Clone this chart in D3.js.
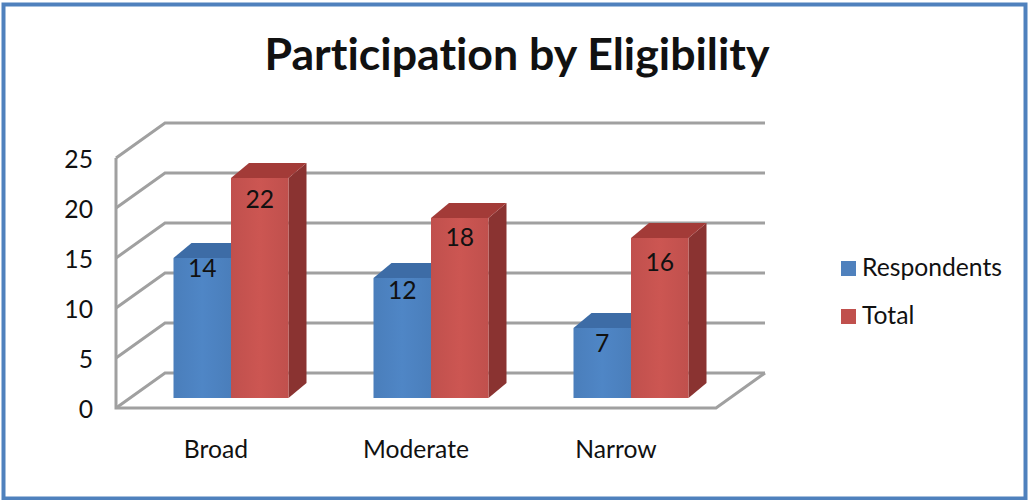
<!DOCTYPE html>
<html>
<head>
<meta charset="utf-8">
<script src="https://cdn.jsdelivr.net/npm/d3@7"></script>
<style>
  html, body { margin: 0; padding: 0; background: #fff; }
  svg { display: block; }
  text { font-family: Lato, "Open Sans", sans-serif; fill: #111; font-variant-ligatures: none; }
  .title { font-size: 44.7px; font-weight: 700; }
  .label { font-size: 24.7px; }
  .grid { stroke: #a0a0a0; stroke-width: 3; fill: none; }
</style>
</head>
<body>
<div id="chart"></div>
<script>
// Participation by Eligibility, fake 3D column chart
const categories = ["Broad", "Moderate", "Narrow"];
const seriesNames = ["Respondents", "Total"];
const respondents = [14, 12, 7];
const total = [22, 18, 16];
const yTicks = [0, 5, 10, 15, 20, 25];

// how far each data label sits under its bar top, placed by hand in the original
const labelDrop = [[10, 12, 15], [21, 19, 24]];

const width = 1029, height = 500;

const svg = d3.select("#chart").append("svg")
  .attr("width", width)
  .attr("height", height);

const faces = [
  { front: "#4a7ebb", frontLight: "#4f86c6", top: "#3d6ca6", side: "#2f5587" },
  { front: "#c0504d", frontLight: "#cc5652", top: "#a33b38", side: "#8a3331" }
];

const defs = svg.append("defs");
faces.forEach((f, i) => {
  const grad = defs.append("linearGradient").attr("id", `front-${i}`);
  grad.append("stop").attr("offset", "0%").attr("stop-color", f.front);
  grad.append("stop").attr("offset", "50%").attr("stop-color", f.frontLight);
  grad.append("stop").attr("offset", "100%").attr("stop-color", f.front);
});

// frame
svg.append("rect")
  .attr("x", 3.5).attr("y", 4.5)
  .attr("width", 1022).attr("height", 494)
  .attr("fill", "#fff")
  .attr("stroke", "#4f81bd")
  .attr("stroke-width", 4);

svg.append("text")
  .attr("class", "title")
  .attr("x", 517)
  .attr("y", 70)
  .attr("text-anchor", "middle")
  .text("Participation by Eligibility");

// scales, front plane of the box
const x = d3.scaleBand().domain(categories).range([116, 716]);
const xSeries = d3.scaleBand().domain(d3.range(seriesNames.length))
  .range([57.5, 172.5]);
const y = d3.scaleLinear().domain([0, 25]).range([408, 158]);

const wall = { dx: 49, dy: -35 };      // depth of the box
const barDepth = { dx: 18, dy: -15 };  // depth of one bar
const barBase = 10;                    // bars stand a bit inside the floor

const grid = svg.append("g");

// back wall and left wall lines
yTicks.forEach(t => {
  grid.append("path")
    .attr("class", "grid")
    .attr("d", d3.line()([
      [x.range()[0], y(t)],
      [x.range()[0] + wall.dx, y(t) + wall.dy],
      [x.range()[1] + wall.dx, y(t) + wall.dy]
    ]));
});

// front of the floor and the left edge
grid.append("path")
  .attr("class", "grid")
  .attr("d", d3.line()([
    [x.range()[0], y(25)],
    [x.range()[0], y(0)],
    [x.range()[1], y(0)],
    [x.range()[1] + wall.dx, y(0) + wall.dy]
  ]));

// y axis labels
const yAxis = d3.axisLeft(y).tickValues(yTicks).tickSize(0).tickPadding(23);
svg.append("g")
  .attr("transform", `translate(${x.range()[0]},1.5)`)
  .call(yAxis)
  .call(g => g.select(".domain").remove())
  .call(g => g.selectAll("text").attr("class", "label").attr("fill", null).style("font-size", "24.7px").style("font-family", null));

// x axis labels
categories.forEach(c => {
  svg.append("text")
    .attr("class", "label")
    .attr("x", x(c) + x.bandwidth() / 2)
    .attr("y", 458)
    .attr("text-anchor", "middle")
    .text(c);
});

// bars, blue first so the red one hides its side
[respondents, total].forEach((values, s) => {
  const group = svg.selectAll(`.bar-${s}`)
    .data(values)
    .enter()
    .append("g")
    .attr("class", `bar-${s}`);

  const left = (d, i) => x(categories[i]) + xSeries(s);
  const right = (d, i) => left(d, i) + xSeries.bandwidth();
  const topY = d => y(d) - barBase;
  const bottomY = y(0) - barBase;

  group.append("path")
    .attr("fill", faces[s].side)
    .attr("d", (d, i) => d3.line()([
      [right(d, i), topY(d)],
      [right(d, i) + barDepth.dx, topY(d) + barDepth.dy],
      [right(d, i) + barDepth.dx, bottomY + barDepth.dy],
      [right(d, i), bottomY]
    ]) + "Z");

  group.append("path")
    .attr("fill", faces[s].top)
    .attr("d", (d, i) => d3.line()([
      [left(d, i), topY(d)],
      [left(d, i) + barDepth.dx, topY(d) + barDepth.dy],
      [right(d, i) + barDepth.dx, topY(d) + barDepth.dy],
      [right(d, i), topY(d)]
    ]) + "Z");

  group.append("rect")
    .attr("x", left)
    .attr("y", topY)
    .attr("width", xSeries.bandwidth())
    .attr("height", d => bottomY - topY(d))
    .attr("fill", `url(#front-${s})`);

  group.append("text")
    .attr("class", "label")
    .attr("x", (d, i) => left(d, i) + xSeries.bandwidth() / 2)
    .attr("y", (d, i) => topY(d) + labelDrop[s][i])
    .attr("dy", "0.35em")
    .attr("text-anchor", "middle")
    .text(d => d);
});

// legend
const legend = svg.selectAll(".legend")
  .data(seriesNames)
  .enter()
  .append("g")
  .attr("class", "legend")
  .attr("transform", (d, i) => `translate(841,${261 + i * 48})`);

legend.append("rect")
  .attr("width", 15)
  .attr("height", 15)
  .attr("fill", (d, i) => i === 0 ? "#4f81bd" : "#c0504d");

legend.append("text")
  .attr("class", "label")
  .attr("x", 21)
  .attr("y", 15)
  .text(d => d);
</script>
</body>
</html>
